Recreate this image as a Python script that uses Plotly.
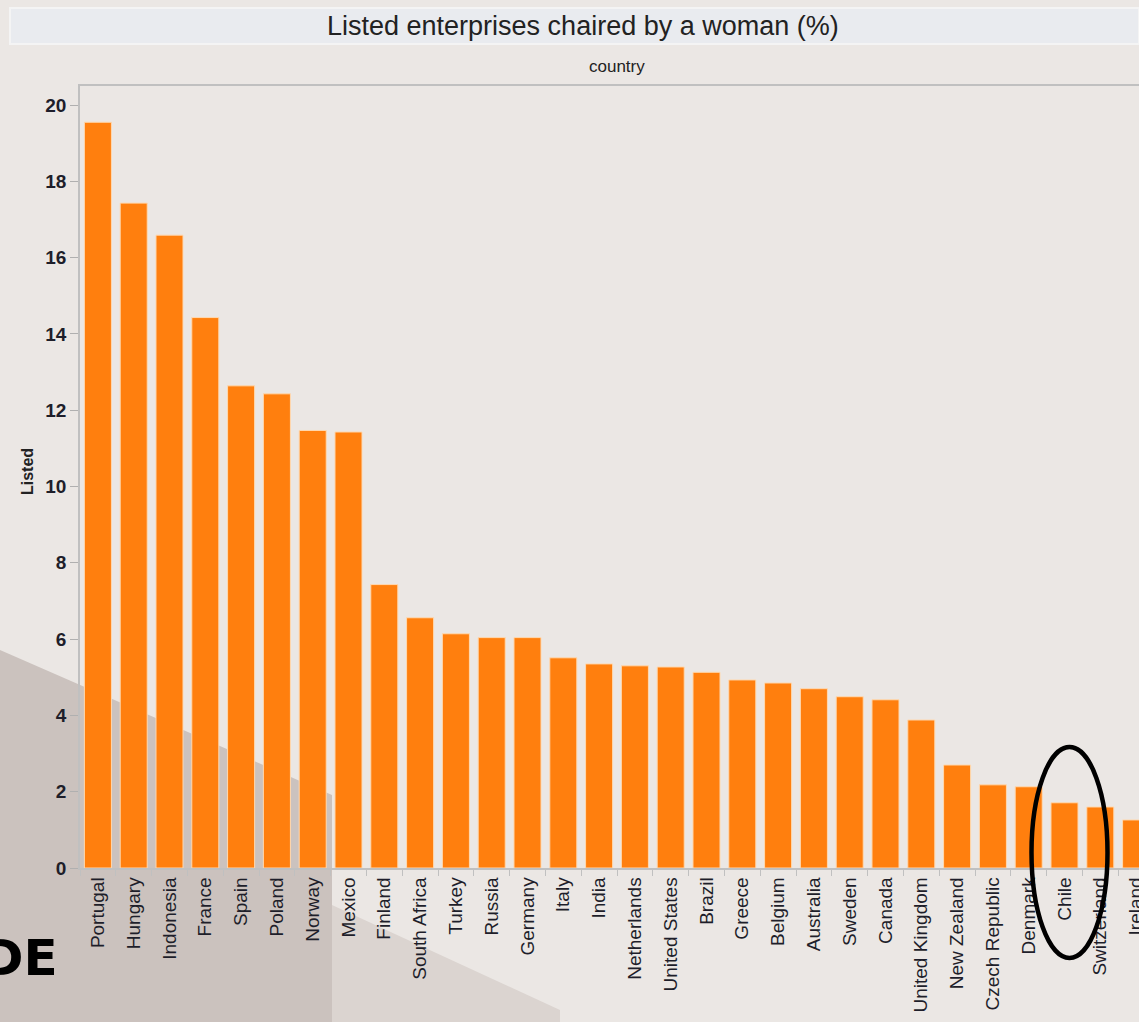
import plotly.graph_objects as go

# ---- data ----
countries = ["Portugal", "Hungary", "Indonesia", "France", "Spain", "Poland", "Norway",
             "Mexico", "Finland", "South Africa", "Turkey", "Russia", "Germany", "Italy",
             "India", "Netherlands", "United States", "Brazil", "Greece", "Belgium",
             "Australia", "Sweden", "Canada", "United Kingdom", "New Zealand",
             "Czech Republic", "Denmark", "Chile", "Switzerland", "Ireland"]
values = [19.55, 17.43, 16.59, 14.43, 12.64, 12.43, 11.47, 11.43, 7.43, 6.56, 6.14,
          6.04, 6.04, 5.51, 5.35, 5.30, 5.27, 5.13, 4.93, 4.85, 4.70, 4.49, 4.41,
          3.88, 2.70, 2.18, 2.13, 1.71, 1.60, 1.26]
y_ticks = [0, 2, 4, 6, 8, 10, 12, 14, 16, 18, 20]
title_text = "Listed enterprises chaired by a woman (%)"
x_title = "country"
y_title = "Listed"
highlight = "Chile"

W, H = 1139, 1022
ML, MR, MT, MB = 80, 0, 86, 154
pw, ph = W - ML - MR, H - MT - MB
x_range = [-0.5, -0.5 + pw / 35.8]
y_range = [0, 20.5]

def px2paper_x(px):
    return (px - ML) / pw

def px2paper_y(py):
    return (H - MB - py) / ph

fig = go.Figure()
fig.add_trace(go.Bar(
    x=countries, y=values,
    marker=dict(color="#ff7f0e", line=dict(color="#ffd9b0", width=1)),
    width=0.755,
))

base_font = "Liberation Sans, Arial, sans-serif"

def poly(points):
    p = "M " + " L ".join("{} {}".format(px2paper_x(a), px2paper_y(b)) for a, b in points)
    return p + " Z"

shapes = []
# background slide shapes (photo-like backdrop)
shapes.append(dict(type="path", xref="paper", yref="paper", layer="below",
                   path=poly([(0, 650), (332, 795), (332, 1022), (0, 1022)]),
                   fillcolor="#cbc2be", line=dict(width=0)))
shapes.append(dict(type="path", xref="paper", yref="paper", layer="below",
                   path=poly([(332, 905), (560, 1010), (560, 1022), (332, 1022)]),
                   fillcolor="#dbd4d0", line=dict(width=0)))
# title band
shapes.append(dict(type="rect", xref="paper", yref="paper", layer="below",
                   x0=px2paper_x(10), x1=px2paper_x(1139),
                   y0=px2paper_y(44), y1=px2paper_y(8),
                   fillcolor="#e9ebef", line=dict(color="#f4f4f4", width=2)))
# highlight ellipse around chosen country
idx = countries.index(highlight)
cx_px = ML + (idx - x_range[0]) / (x_range[1] - x_range[0]) * pw + 5
shapes.append(dict(type="circle", xref="paper", yref="paper",
                   x0=px2paper_x(cx_px - 38), x1=px2paper_x(cx_px + 38),
                   y0=px2paper_y(958), y1=px2paper_y(747),
                   line=dict(color="black", width=4.5)))

annotations = [
    dict(text=title_text, xref="paper", yref="paper", x=px2paper_x(583), y=px2paper_y(26),
         xanchor="center", yanchor="middle", showarrow=False,
         font=dict(family=base_font, size=27, color="#222222")),
    dict(text=x_title, xref="paper", yref="paper", x=px2paper_x(617), y=px2paper_y(66),
         xanchor="center", yanchor="middle", showarrow=False,
         font=dict(family=base_font, size=17, color="#222222")),
    dict(text="<b>" + y_title + "</b>", xref="paper", yref="paper", x=px2paper_x(28),
         y=px2paper_y(472), xanchor="center", yanchor="middle", showarrow=False,
         textangle=-90, font=dict(family=base_font, size=16, color="#222222")),
    dict(text="<b>DE</b>", xref="paper", yref="paper", x=px2paper_x(60), y=px2paper_y(958),
         xanchor="right", yanchor="middle", showarrow=False,
         font=dict(family="DejaVu Sans, sans-serif", size=50, color="#000000")),
]

fig.update_layout(
    width=W, height=H,
    margin=dict(l=ML, r=MR, t=MT, b=MB, pad=0),
    paper_bgcolor="#ebe7e4", plot_bgcolor="rgba(0,0,0,0)",
    showlegend=False,
    shapes=shapes, annotations=annotations,
    xaxis=dict(type="category", range=x_range, tickangle=-90, showgrid=False,
               showline=True, linecolor="#c0c0c0", linewidth=1.5, mirror=True,
               ticks="outside", tickson="boundaries", ticklen=6, tickcolor="#c0c0c0",
               tickfont=dict(family=base_font, size=19, color="#1e1e2a"), automargin=False),
    yaxis=dict(range=y_range, tickvals=y_ticks, showgrid=False, zeroline=False,
               showline=True, linecolor="#c0c0c0", linewidth=1.5,
               ticks="outside", ticklen=8, tickcolor="#b0b0b0",
               tickfont=dict(family=base_font, size=19, color="#1e1e2a", weight="bold"),
               automargin=False),
)

fig.write_html("out.html", config={"displayModeBar": False},
               post_script="document.body.style.margin='0';document.body.style.overflow='hidden';")
